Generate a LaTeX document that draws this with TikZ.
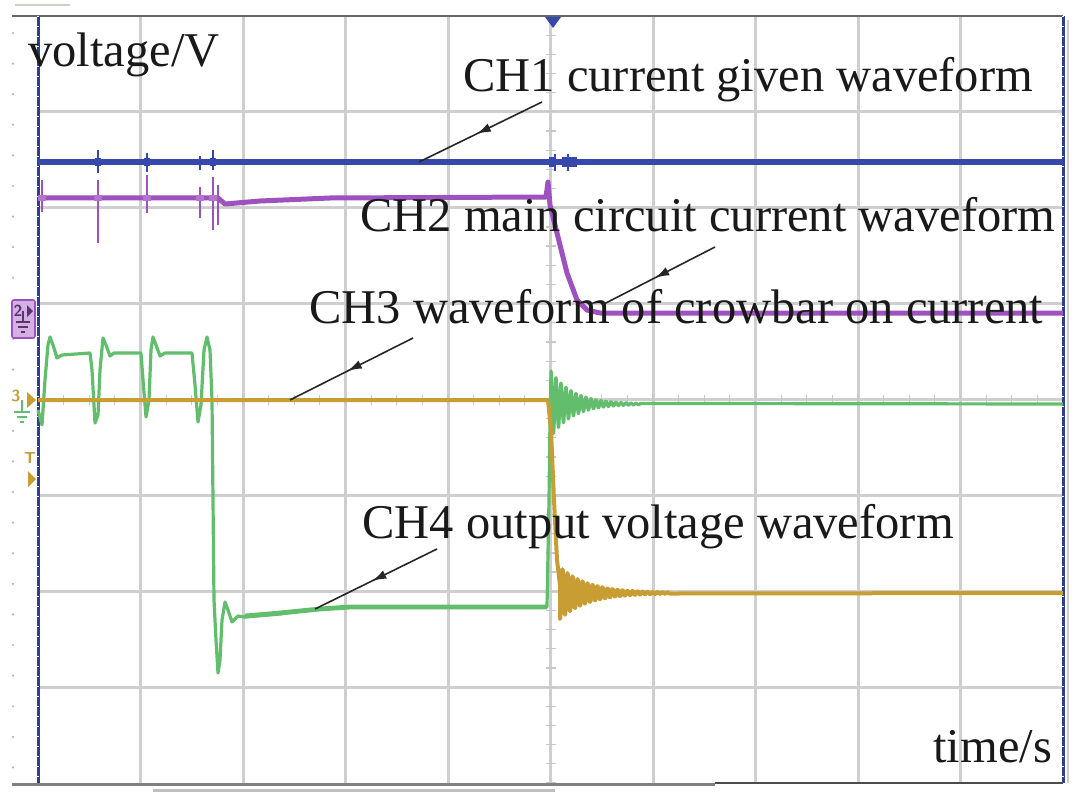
\documentclass[tikz,border=0pt]{standalone}
\usepackage{fontspec}
\setmainfont{Liberation Serif}
\usepackage{xcolor}
\usetikzlibrary{arrows.meta, decorations.markings}
\definecolor{bluech}{RGB}{55,72,172}
\definecolor{purplech}{RGB}{158,82,192}
\definecolor{yellowch}{RGB}{200,158,52}
\definecolor{greench}{RGB}{98,190,108}

\begin{document}
\begin{tikzpicture}[x=0.5pt, y=-0.5pt, line join=round,
  gridline/.style={draw=black!19, line width=1.5pt},
  minortick/.style={draw=black!22, line width=0.6pt},
  lbl/.style={anchor=base west, inner sep=0pt, text=black!90, font=\fontsize{24.25}{29}\selectfont},
  pointer/.style={draw=black!85, line width=0.8pt, postaction={decorate},
    decoration={markings, mark=at position 0.53 with {\arrow{Latex[length=7pt, width=4.5pt]}}}},
  mkfont/.style={inner sep=0pt, font=\fontsize{8}{8}\selectfont\sffamily\bfseries}
]
\fill[white] (0,0) rectangle (1083,797);
\useasboundingbox (0,0) rectangle (1083,797);

% 网格
\foreach \i in {1,...,9} \draw[gridline] ({38+102.5*\i},16) -- ({38+102.5*\i},783);
\foreach \j in {1,...,7} \draw[gridline] (38,{16+95.875*\j}) -- (1063,{16+95.875*\j});
\foreach \j in {0,...,40} \draw[minortick] (546,{16+19.175*\j}) -- (556,{16+19.175*\j});
\foreach \i in {0,...,40} \draw[minortick] ({38+25.625*\i},395) -- ({38+25.625*\i},405);
\foreach \j in {0,...,24} \fill[black!30] (13,{33+30.6*\j}) circle[radius=0.6pt];

% 边框
\draw[black!60, line width=1pt] (12,16) -- (1063,16);
\draw[black!50, line width=1.5pt] (12,784) -- (715,784);
\draw[black!70, line width=0.7pt] (715,783) -- (1063,783);
\draw[black!25, line width=1.5pt] (153,790) -- (555,790);
\draw[black!20, line width=0.8pt] (1068,20) -- (1068,783);
\foreach \x in {38,1063} {
  \draw[bluech!85!black, line width=1.5pt] (\x,16) -- (\x,783);
  \draw[white, line width=0.6pt, dash pattern=on 0.5pt off 4.5pt] (\x,16) -- (\x,783);
}
\draw[yellowch!40!black!25, line width=1pt] (15,5) -- (70,5);
\fill[bluech] (545,17) -- (561,17) -- (553,28) -- cycle;

% 通道标记
\draw[purplech, fill=purplech!45, line width=0.8pt, rounded corners=1pt] (12,300) rectangle (35,338);
\node[mkfont, text=purplech!60!black] (m2) at (18,311) {2};
\fill[purplech!60!black] (27,305) -- (33,311) -- (27,317) -- cycle;
\draw[purplech!60!black, line width=0.8pt] (23,311) -- (23,322) (16,322) -- (30,322) (18,327) -- (28,327) (21,332) -- (25,332);
\node[mkfont, text=yellowch] (m3) at (16,396) {3};
\fill[yellowch] (27,392) -- (36,400) -- (27,408) -- cycle;
\draw[greench, line width=0.8pt] (22,400) -- (22,412) (14,412) -- (30,412) (17,417) -- (27,417) (20,422) -- (24,422);
\node[mkfont, text=yellowch] (mt) at (30,458) {T};
\fill[yellowch] (28,471) -- (36,479) -- (28,487) -- cycle;

% CH4 输出电压
\draw[greench, line width=1.6pt] (38,410) -- (42,425) -- (45,380) -- (48,345) -- (50,337) -- (53,345) -- (57,358) -- (62,355)
  -- (90,353) -- (92,370) -- (95,423) -- (98,415) -- (100,370) -- (103,338) -- (106,345) -- (110,356) -- (114,353)
  -- (141,353) -- (143,380) -- (146,417) -- (149,400) -- (151,350) -- (153,337) -- (156,345) -- (160,356) -- (165,353)
  -- (192,353) -- (195,385) -- (198,422) -- (201,405) -- (204,350) -- (207,337) -- (210,350) -- (212,400)
  -- (213,500) -- (214,600) -- (216,640) -- (218,673) -- (220,660) -- (222,620) -- (225,602) -- (228,610)
  -- (232,622) -- (238,616) -- (245,617) -- (280,614) -- (300,611) -- (320,609) -- (350,607) -- (547,607)
  -- (549,500) -- (550,420) -- (551,371)
  -- plot[domain=0:90, samples=361] ({551+\x},{404-33*exp(-\x/22)*cos(72*\x)}) -- (1063,404);
\draw[greench, line width=2.4pt] (245,616) -- (280,613) -- (320,609) -- (350,607) -- (547,607);

% CH3 撬棒导通电流
\draw[yellowch, line width=2pt] (38,400) -- (548,400) -- (551,430) -- (554,500) -- (557,560) -- (560,585)
  -- plot[domain=0:110, samples=441] ({560+\x},{593+26*exp(-\x/28)*cos(72*\x)}) -- (1063,593);

% CH2 主电路电流
\draw[purplech, line width=2.5pt] (38,198) -- (218,198) -- (225,204) -- (260,201) -- (330,198) -- (546,197)
  -- (548,182) -- (550,205) -- (557,233) -- (567,273) -- (577,300) -- (587,310) -- (600,313) -- (1063,313);
\foreach \x/\a/\b in {42/180/212, 98/180/243, 147/175/213, 200/187/218, 213/177/230, 218/185/225}
  \draw[purplech, line width=1pt] (\x,\a) -- (\x,\b);
\foreach \x in {42,98,147,200,213}
  \draw[purplech!80, line width=3pt] ({\x-4},198) -- ({\x+4},198);

% CH1 电流给定
\draw[bluech, line width=2.6pt] (38,162) -- (1063,162);
\foreach \x/\a/\b in {98/150/173, 147/153/172, 200/156/170, 213/150/170, 555/154/171, 568/154/171}
  \draw[bluech, line width=1pt] (\x,\a) -- (\x,\b);
\foreach \x in {98,147,213}
  \draw[bluech, line width=3.6pt] ({\x-3},162) -- ({\x+3},162);
\draw[bluech, line width=5pt] (549,162) -- (556,162) (562,162) -- (577,162);

% 标注
\node[lbl] (ylbl) at (28,67) {voltage/V};
\node[lbl] (ch1lbl) at (463,92) {CH1 current given waveform};
\node[lbl] (ch2lbl) at (360,232) {CH2 main circuit current waveform};
\node[lbl] (ch3lbl) at (309,323) {CH3 waveform of crowbar on current};
\node[lbl] (ch4lbl) at (362,538) {CH4 output voltage waveform};
\node[lbl] (xlbl) at (933,762) {time/s};

\coordinate (ch1a) at (542,102); \coordinate (ch1b) at (419,162);
\coordinate (ch2a) at (715,247); \coordinate (ch2b) at (602,305);
\coordinate (ch3a) at (413,338); \coordinate (ch3b) at (290,400);
\coordinate (ch4a) at (437,549); \coordinate (ch4b) at (315,609);
\draw[pointer] (ch1a) -- (ch1b);
\draw[pointer] (ch2a) -- (ch2b);
\draw[pointer] (ch3a) -- (ch3b);
\draw[pointer] (ch4a) -- (ch4b);
\end{tikzpicture}
\end{document}
